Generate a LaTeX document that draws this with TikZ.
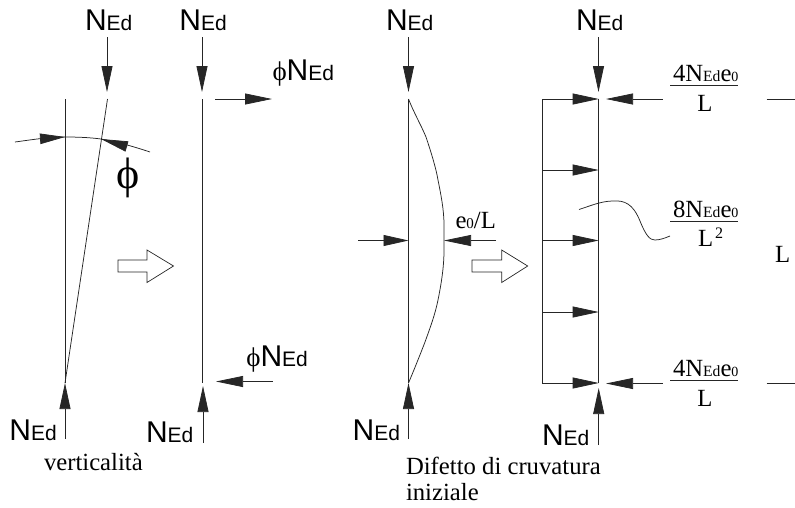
\documentclass[tikz,border=0pt]{standalone}
\usepackage{fontspec}
\setmainfont{Liberation Serif}
\newfontfamily\arialf{Liberation Sans}
\usetikzlibrary{arrows.meta}
\newcommand{\fs}[1]{\fontsize{#1}{#1}\selectfont}
\newcommand{\NEdS}{{\arialf\fs{30}N\fs{21}Ed}}
\newcommand{\PhiS}{\makebox[14.2pt][l]{\fs{27}\char"03D5}}
\newcommand{\NEdT}{{\fs{24.7}N\fs{15.6}Ed\fs{24.7}e\fs{14}0}}
\tikzset{
  x=1pt,y=-1pt,
  lin/.style={line width=0.75pt,black!85},
  tipped/.style={lin,-{Triangle[length=26pt,width=11pt]}},
  hollow/.style={line width=0.7pt,black!85,line join=miter},
  lab/.style={inner sep=0pt,outer sep=0pt,anchor=base west,text=black},
  mid/.style={inner sep=0pt,outer sep=0pt,anchor=base,text=black},
  captext/.style={lab,font=\fs{24.7}},
}
\begin{document}
\begin{tikzpicture}
\useasboundingbox (0,0) rectangle (795,507);
% ---------- coordinates: diagram 1
\coordinate (a1) at (107,37); \coordinate (a2) at (107,92);
\coordinate (a3) at (65,99);  \coordinate (a4) at (65,383);
\coordinate (a5) at (107.5,99);
\coordinate (a6) at (65,439);
\coordinate (b1) at (15,142); \coordinate (b2) at (65,137);
\coordinate (b3) at (150,152); \coordinate (b4) at (101,139);
% diagram 2
\coordinate (c1) at (202,37); \coordinate (c2) at (202,92);
\coordinate (c3) at (202.5,99); \coordinate (c4) at (202.5,383);
\coordinate (c5) at (215,99); \coordinate (c6) at (272,99);
\coordinate (c7) at (272.5,381.5); \coordinate (c8) at (216,381.5);
\coordinate (c9) at (203,443); \coordinate (c10) at (203,386);
% diagram 3
\coordinate (d1) at (408.5,37); \coordinate (d2) at (408.5,92);
\coordinate (d3) at (408.5,99); \coordinate (d4) at (408.5,383);
\coordinate (d5) at (408.5,439);
\coordinate (d6) at (358,240.5); \coordinate (d7) at (408.5,240.5);
\coordinate (d8) at (496,240.5); \coordinate (d9) at (444,240.5);
% diagram 4
\coordinate (e1) at (598.5,37); \coordinate (e2) at (598.5,92);
\coordinate (e3) at (598.7,99); \coordinate (e4) at (598.7,383);
\coordinate (e5) at (542.3,99); \coordinate (e6) at (542.3,383);
\coordinate (e7) at (542.3,170); \coordinate (e8) at (598.7,170);
\coordinate (e9) at (542.3,240.5); \coordinate (e10) at (598.7,240.5);
\coordinate (e11) at (542.3,312); \coordinate (e12) at (598.7,312);
\coordinate (e13) at (598.7,445); \coordinate (e14) at (598.7,388);
\coordinate (e15) at (662.7,99); \coordinate (e16) at (606,99);
\coordinate (e17) at (662.7,383.5); \coordinate (e18) at (606,383.5);
\coordinate (t1) at (766.7,99); \coordinate (t2) at (795,99);
\coordinate (t3) at (766.7,383.5); \coordinate (t4) at (795,383.5);
\coordinate (f1) at (670,85.3); \coordinate (f2) at (738,85.3);
\coordinate (f3) at (670,221.7); \coordinate (f4) at (738,221.7);
\coordinate (f5) at (670,380); \coordinate (f6) at (738,380);
\coordinate (g1) at (579,209.5); \coordinate (g2) at (670,236);
% ---------- diagram 1
\draw[tipped] (a1) -- (a2);
\draw[lin] (a3) -- (a4);
\draw[lin] (a5) -- (a4);
\draw[tipped] (a6) -- (a4);
\draw[lin] (b1) .. controls (30,140) and (48,137) .. (b2)
   .. controls (78,137) and (90,137.5) .. (b4)
   .. controls (118,142) and (135,147) .. (b3);
\draw[lin,-{Triangle[length=25pt,width=10.5pt]}] (40,138.8) -- (b2);
\draw[lin,-{Triangle[length=27pt,width=10.5pt]}] (127,146.5) -- (b4);
\node[lab] (n1) at (85,30) {\NEdS};
\node[lab] (n2) at (9.4,440) {\NEdS};
\node[lab,font=\fs{44}] (p1) at (116.5,188) {\char"03D5};
\node[captext] (v1) at (44,470.7) {verticalità};
% ---------- diagram 2
\draw[tipped] (c1) -- (c2);
\draw[lin] (c3) -- (c4);
\draw[lin,-{Triangle[length=27pt,width=11pt]}] (c5) -- (c6);
\draw[lin,-{Triangle[length=27pt,width=11pt]}] (c7) -- (c8);
\draw[tipped] (c9) -- (c10);
\node[lab] (n3) at (179.4,30) {\NEdS};
\node[lab] (n4) at (146,442.7) {\NEdS};
\node[lab] (p2) at (272.5,80.7) {\PhiS\NEdS};
\node[lab] (p3) at (246.3,366.7) {\PhiS\NEdS};
% hollow arrow
\draw[hollow] (118,260) -- (147,260) -- (147,250) -- (173.5,266) -- (147,282.5) -- (147,272) -- (118,272) -- cycle;
% ---------- diagram 3
\draw[tipped] (d1) -- (d2);
\draw[lin] (d3) -- (d4);
\draw[tipped] (d5) -- (d4);
\draw[lin] (d3) .. controls (414,113) and (421,125) .. (426,137)
  .. controls (431,152) and (436,168) .. (438,180)
  .. controls (441,195) and (444,210) .. (444,225)
  -- (444,250) .. controls (444,268) and (441,285) .. (438,300)
  .. controls (435,315) and (430,328) .. (425,342)
  .. controls (420,355) and (414,370) .. (d4);
\draw[lin,-{Triangle[length=25pt,width=11pt]}] (d6) -- (d7);
\draw[lin,-{Triangle[length=27pt,width=11pt]}] (d8) -- (d9);
\node[lab] (n5) at (386,30) {\NEdS};
\node[lab] (n6) at (352.7,440) {\NEdS};
\node[lab] (el) at (455.5,228) {\fs{24.7}e\fs{15}0\fs{24.7}/L};
\draw[hollow] (472,260) -- (501.7,260) -- (501.7,250) -- (527.7,266) -- (501.7,282.5) -- (501.7,272) -- (472,272) -- cycle;
% ---------- diagram 4
\draw[tipped] (e1) -- (e2);
\draw[lin] (e3) -- (e4);
\draw[lin] (e5) -- (e6);
\draw[tipped] (e5) -- (e3);
\draw[tipped] (e7) -- (e8);
\draw[tipped] (e9) -- (e10);
\draw[tipped] (e11) -- (e12);
\draw[tipped] (e6) -- (e4);
\draw[tipped] (e13) -- (e14);
\draw[lin,-{Triangle[length=27pt,width=11pt]}] (e15) -- (e16);
\draw[lin,-{Triangle[length=27pt,width=11pt]}] (e17) -- (e18);
\draw[lin] (t1) -- (t2);
\draw[lin] (t3) -- (t4);
\draw[lin] (f1) -- (f2);
\draw[lin] (f3) -- (f4);
\draw[lin] (f5) -- (f6);
\draw[lin] (g1) .. controls (590,206) and (600,201.5) .. (612,201)
  .. controls (625,200) and (633,204) .. (640,221)
  .. controls (646,236) and (650,240) .. (655,240)
  .. controls (660,240) and (665,238) .. (g2);
\node[lab] (n7) at (576,30) {\NEdS};
\node[lab] (n8) at (542,445.7) {\NEdS};
\node[lab] (q1) at (673,81) {\fs{24.7}4\NEdT};
\node[mid,font=\fs{24.7}] (q2) at (705,111) {L};
\node[lab] (q3) at (673,217) {\fs{24.7}8\NEdT};
\node[lab,font=\fs{24.7}] (q4) at (698,246.7) {L};
\node[lab,font=\fs{16}] (q5) at (715,238) {2};
\node[lab] (q6) at (673,376) {\fs{24.7}4\NEdT};
\node[mid,font=\fs{24.7}] (q7) at (705,406) {L};
\node[lab,font=\fs{24.7}] (q8) at (775,262.3) {L};
\node[captext] (w1) at (406,474) {Difetto di cruvatura};
\node[captext] (w2) at (406,500.7) {iniziale};
\end{tikzpicture}
\end{document}
